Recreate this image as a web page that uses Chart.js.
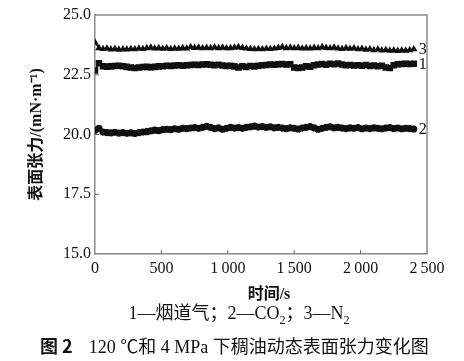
<!DOCTYPE html>
<html>
<head>
<meta charset="utf-8">
<script src="https://cdn.jsdelivr.net/npm/chart.js@4/dist/chart.umd.min.js"></script>
<style>
html,body{margin:0;padding:0;background:#fff;}
#wrap{position:relative;width:464px;height:361px;overflow:hidden;}
canvas{position:absolute;left:0;top:0;}
.txt{position:absolute;white-space:nowrap;color:#111;}
#legend{left:0;width:478px;text-align:center;top:298px;font:18px "Liberation Serif","Noto Sans CJK SC",serif;}
#caption{left:40px;top:332px;font:18px "Liberation Serif","Noto Sans CJK SC",serif;}
#caption b{font-family:"Noto Sans CJK SC",sans-serif;font-weight:bold;margin-right:16px;}
</style>
</head>
<body>
<div id="wrap">
<canvas id="c" width="464" height="361"></canvas>
<div id="legend" class="txt">1—烟道气；2—CO<sub style="font-size:12px">2</sub>；3—N<sub style="font-size:12px">2</sub></div>
<div id="caption" class="txt"><b>图 2</b>120 ℃和 4 MPa 下稠油动态表面张力变化图</div>
</div>
<script>
// ---- data ----
const times = [0,30,60,90,120,150,180,210,240,270,300,330,360,390,420,450,480,510,540,570,600,630,660,690,720,750,780,810,840,870,900,930,960,990,1020,1050,1080,1110,1140,1170,1200,1230,1260,1290,1320,1350,1380,1410,1440,1470,1500,1530,1560,1590,1620,1650,1680,1710,1740,1770,1800,1830,1860,1890,1920,1950,1980,2010,2040,2070,2100,2130,2160,2190,2220,2250,2280,2310,2340,2370,2400];
const fluegas = [22.68,22.98,22.86,22.84,22.85,22.87,22.88,22.86,22.83,22.80,22.78,22.80,22.82,22.83,22.81,22.83,22.85,22.86,22.88,22.87,22.89,22.90,22.88,22.90,22.91,22.92,22.91,22.93,22.94,22.92,22.90,22.92,22.89,22.87,22.88,22.85,22.80,22.86,22.82,22.87,22.85,22.88,22.90,22.91,22.93,22.92,22.94,22.95,22.93,22.94,22.80,22.78,22.80,22.86,22.84,22.90,22.93,22.95,22.92,22.96,22.94,22.97,22.93,22.90,22.91,22.89,22.90,22.88,22.91,22.87,22.89,22.86,22.88,22.80,22.78,22.90,22.94,22.95,22.96,22.95,22.96];
const co2 = [20.18,20.26,20.10,20.08,20.07,20.09,20.06,20.08,20.05,20.07,20.04,20.08,20.10,20.12,20.15,20.18,20.16,20.20,20.22,20.20,20.24,20.22,20.26,20.25,20.27,20.29,20.26,20.30,20.34,20.30,20.25,20.28,20.22,20.26,20.30,20.27,20.29,20.26,20.30,20.32,20.35,20.31,20.33,20.30,20.32,20.28,20.30,20.27,20.25,20.28,20.26,20.23,20.27,20.30,20.33,20.28,20.22,20.26,20.30,20.32,20.28,20.30,20.27,20.25,20.28,20.26,20.29,20.24,20.27,20.25,20.28,20.26,20.24,20.27,20.29,20.25,20.27,20.24,20.26,20.25,20.23];
const n2 = [23.85,23.62,23.58,23.60,23.56,23.58,23.55,23.57,23.56,23.58,23.57,23.60,23.58,23.62,23.64,23.60,23.62,23.59,23.61,23.58,23.60,23.59,23.62,23.60,23.66,23.63,23.64,23.61,23.63,23.62,23.65,23.62,23.64,23.61,23.62,23.64,23.66,23.63,23.60,23.58,23.57,23.58,23.57,23.59,23.58,23.60,23.63,23.66,23.62,23.64,23.61,23.63,23.60,23.62,23.60,23.63,23.61,23.66,23.63,23.61,23.64,23.60,23.58,23.62,23.59,23.61,23.57,23.59,23.55,23.57,23.53,23.56,23.52,23.54,23.51,23.52,23.50,23.52,23.51,23.53,23.57];
const seriesLabels = ['1','2','3'];
const xTicks = [0,500,1000,1500,2000,2500];
const yTicks = [15.0,17.5,20.0,22.5,25.0];

const toXY = arr => arr.map((v,i)=>({x:times[i], y:v}));
const serif = '"Liberation Serif","Noto Sans CJK SC",serif';
const axisColor = '#8a8a8a';

const framePlugin = {
  id:'frame',
  afterDraw(chart){
    const {ctx, chartArea:a, scales} = chart;
    ctx.save();
    ctx.strokeStyle = axisColor;
    ctx.lineWidth = 1.5;
    ctx.beginPath();
    ctx.moveTo(a.left, a.top); ctx.lineTo(a.right, a.top); ctx.lineTo(a.right, a.bottom);
    ctx.stroke();
    ctx.lineWidth = 1;
    ctx.strokeStyle = '#666';
    ctx.beginPath();
    xTicks.slice(1,-1).forEach(t=>{const px=scales.x.getPixelForValue(t); ctx.moveTo(px,a.bottom); ctx.lineTo(px,a.bottom-4);});
    yTicks.slice(1,-1).forEach(t=>{const py=scales.y.getPixelForValue(t); ctx.moveTo(a.left,py); ctx.lineTo(a.left+4,py);});
    ctx.stroke();
    // end labels
    ctx.fillStyle = '#111';
    ctx.font = '16px ' + serif;
    ctx.textBaseline = 'middle';
    chart.data.datasets.forEach((ds,i)=>{
      const meta = chart.getDatasetMeta(i);
      const p = meta.data[meta.data.length-1];
      ctx.fillText(ds.endLabel, p.x + 5, p.y + 1);
    });
    ctx.restore();
  }
};

new Chart(document.getElementById('c'), {
  type:'line',
  data:{
    datasets:[
      {label:'烟道气', endLabel:seriesLabels[0], data:toXY(fluegas), pointStyle:'rect', pointRadius:3.2, borderColor:'#111', backgroundColor:'#111', borderWidth:2},
      {label:'CO2', endLabel:seriesLabels[1], data:toXY(co2), pointStyle:'circle', pointRadius:2.6, borderColor:'#111', backgroundColor:'#111', borderWidth:2},
      {label:'N2', endLabel:seriesLabels[2], data:toXY(n2), pointStyle:'triangle', pointRadius:2.8, borderColor:'#111', backgroundColor:'#111', borderWidth:1.5}
    ]
  },
  options:{
    responsive:false, animation:false,
    layout:{padding:{left:0,right:37,top:15,bottom:57}},
    plugins:{legend:{display:false}, tooltip:{enabled:false}},
    elements:{line:{tension:0}},
    scales:{
      x:{
        type:'linear', min:0, max:2500,
        afterBuildTicks(s){ s.ticks = xTicks.map(v=>({value:v})); },
        afterFit(s){ s.height = 50; },
        grid:{display:false, drawTicks:false},
        border:{display:true, color:axisColor, width:1.5},
        ticks:{padding:5, color:'#111', font:{family:serif, size:16}, maxRotation:0,
          callback:v=> v>=1000 ? String(v).replace(/(\d)(\d{3})$/,'$1\u2009$2') : String(v)},
        title:{display:true, text:'\u2003时间/s', color:'#111', font:{family:serif, size:16, weight:'bold'}, padding:{top:-3,bottom:0}}
      },
      y:{
        type:'linear', min:15, max:25,
        afterBuildTicks(s){ s.ticks = yTicks.map(v=>({value:v})); },
        afterFit(s){ s.width = 95; },
        grid:{display:false, drawTicks:false},
        border:{display:true, color:axisColor, width:1.5},
        ticks:{padding:4, color:'#111', font:{family:serif, size:16}, callback:v=>Number(v).toFixed(1)},
        title:{display:true, text:'表面张力/(mN·m⁻¹)', color:'#111', font:{family:serif, size:16, weight:'bold'}, padding:{top:27,bottom:0}}
      }
    }
  },
  plugins:[framePlugin]
});
</script>
</body>
</html>
